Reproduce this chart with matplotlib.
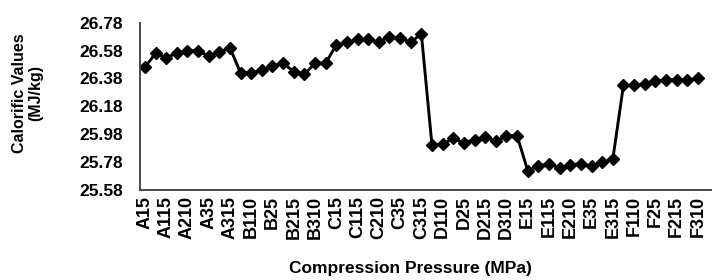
import matplotlib
matplotlib.use("Agg")
import matplotlib.pyplot as plt
import numpy as np

plt.rcParams["font.family"] = ["Liberation Sans", "DejaVu Sans"]
plt.rcParams["font.weight"] = "bold"

# sample codes: letter + pressure + time, every other one labelled on the axis
groups = ["A", "B", "C", "D", "E", "F"]
suffixes = ["15", "110", "115", "25", "210", "215", "35", "310", "315"]
samples = [g + s for g in groups for s in suffixes][:53]

calorific = [
    26.46, 26.56, 26.53, 26.56, 26.58, 26.58, 26.54, 26.57, 26.60,
    26.42, 26.42, 26.44, 26.47, 26.49, 26.43, 26.41, 26.49, 26.49,
    26.62, 26.64, 26.66, 26.66, 26.64, 26.68, 26.67, 26.64, 26.70,
    25.90, 25.91, 25.95, 25.92, 25.94, 25.96, 25.93, 25.97, 25.97,
    25.72, 25.75, 25.77, 25.74, 25.76, 25.77, 25.75, 25.78, 25.80,
    26.33, 26.33, 26.34, 26.36, 26.37, 26.37, 26.37, 26.38,
]

y_ticks = [25.58, 25.78, 25.98, 26.18, 26.38, 26.58, 26.78]

fig = plt.figure(figsize=(7.12, 2.8), dpi=100)
ax = fig.add_axes([0.196, 0.321, 0.817, 0.598])

x = np.arange(len(samples))
ax.plot(x, calorific, color="black", lw=2.1, marker="D", ms=5.8,
        mfc="black", mec="black", mew=1)

ax.set_xlim(-0.5, 54.2)
ax.set_ylim(y_ticks[0], y_ticks[-1])
ax.set_yticks(y_ticks)
ax.set_yticklabels([f"{v:.2f}" for v in y_ticks], fontsize=12.5, fontweight="bold")
ax.set_xticks(x[::2])
ax.set_xticklabels(samples[::2], rotation=90, fontsize=13, fontweight="bold")
ax.tick_params(axis="y", length=0, pad=12)
ax.tick_params(axis="x", length=0, pad=4)

for side in ("top", "right"):
    ax.spines[side].set_visible(False)
for side in ("left", "bottom"):
    ax.spines[side].set_color("#3a3a3a")
    ax.spines[side].set_linewidth(1.3)

fig.text(28 / 712, 1 - 93 / 280, "Calorific Values\n(MJ/kg)", rotation=90,
         ha="center", va="center", multialignment="center",
         fontsize=11.5, fontweight="bold", linespacing=1.1)
fig.text(410 / 712, 1 - 268 / 280, "Compression Pressure (MPa)",
         ha="center", va="center", fontsize=12.5, fontweight="bold")

fig.savefig("out.png", dpi=100)
